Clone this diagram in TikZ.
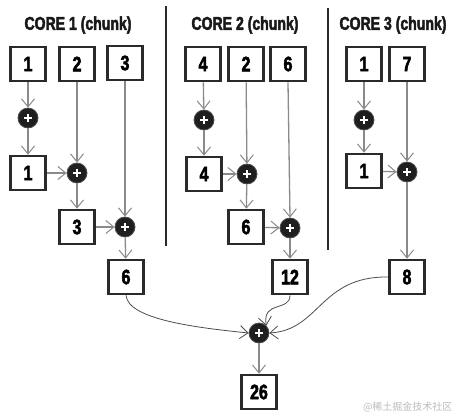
\documentclass[tikz,border=0pt]{standalone}
\usepackage{fontspec}
\setmainfont{Liberation Sans}
\newfontfamily\heavy{Liberation Sans}[UprightFont={* Bold}, FakeStretch=0.76, FakeBold=2.4]
\newfontfamily\cjkwm{Noto Sans CJK SC}
\usetikzlibrary{arrows.meta}
\definecolor{boxgray}{HTML}{2A2A2A}
\definecolor{linegray}{HTML}{8A8A8A}
\definecolor{wmgray}{HTML}{BBBBBB}
\begin{document}
\begin{tikzpicture}[x=1pt,y=-1pt,
  numbox/.style={draw=boxgray, line width=2.6pt, fill=white, minimum width=35pt, minimum height=34pt, inner sep=0pt, font=\heavy\fontsize{21}{22}\selectfont},
  plusnode/.style={circle, fill=black!88, draw=black!70, line width=0.8pt, minimum size=20pt, inner sep=0pt,
    path picture={\draw[white, line width=2pt] ([xshift=-4pt]path picture bounding box.center) -- ([xshift=4pt]path picture bounding box.center);
                  \draw[white, line width=2pt] ([yshift=-4pt]path picture bounding box.center) -- ([yshift=4pt]path picture bounding box.center);}},
  conn/.style={draw=linegray, line width=1.3pt, -{Straight Barb[length=8pt,width=13pt,line width=1pt]}},
  curveconn/.style={draw=black!70, line width=0.8pt, -{Straight Barb[length=8pt,width=13pt,line width=0.8pt]}},
  title/.style={font=\heavy\fontsize{18.5}{20}\selectfont, text=black!90},
  divider/.style={draw=boxgray, line width=1.6pt}
]
\useasboundingbox (0,0) rectangle (458,418);

% titles
\node[title] (t1) at (78,25) {CORE 1 (chunk)};
\node[title] (t2) at (245,25) {CORE 2 (chunk)};
\node[title] (t3) at (393,25) {CORE 3 (chunk)};

% dividers
\coordinate (d1t) at (166,6);
\coordinate (d1b) at (166,246);
\coordinate (d2t) at (328,8);
\coordinate (d2b) at (328,250);
\draw[divider] (d1t) -- (d1b);
\draw[divider] (d2t) -- (d2b);

% core 1
\node[numbox] (a1) at (28,64) {1};
\node[numbox] (a2) at (77,64) {2};
\node[numbox] (a3) at (125,63) {3};
\node[plusnode] (ap1) at (28,118) {};
\node[numbox] (a4) at (28,173) {1};
\node[plusnode] (ap2) at (77,173) {};
\node[numbox] (a5) at (77,227) {3};
\node[plusnode] (ap3) at (125,227) {};
\node[numbox] (a6) at (126,277) {6};

% core 2
\node[numbox] (b1) at (203,64) {4};
\node[numbox] (b2) at (246,64) {2};
\node[numbox] (b3) at (288,64) {6};
\node[plusnode] (bp1) at (204,120) {};
\node[numbox] (b4) at (204,174) {4};
\node[plusnode] (bp2) at (247,174) {};
\node[numbox] (b5) at (246,227) {6};
\node[plusnode] (bp3) at (290,228) {};
\node[numbox] (b6) at (290,277) {12};

% core 3
\node[numbox] (c1) at (364,64) {1};
\node[numbox] (c2) at (407,64) {7};
\node[plusnode] (cp1) at (364,120) {};
\node[numbox] (c4) at (364,171) {1};
\node[plusnode] (cp2) at (407,172) {};
\node[numbox] (c6) at (407,277) {8};

% final
\node[plusnode] (fp) at (259,333) {};
\node[numbox] (f) at (259,392) {26};

% core 1 connectors
\draw[conn] (a1) -- (ap1);
\draw[conn] (ap1) -- (a4);
\draw[conn] (a2) -- (ap2);
\draw[conn] (a4) -- (ap2);
\draw[conn] (ap2) -- (a5);
\draw[conn] (a3.south) -- (ap3.north);
\draw[conn] (a5) -- (ap3);
\draw[conn] (ap3) -- (a6);

% core 2 connectors
\draw[conn] (b1) -- (bp1);
\draw[conn] (bp1) -- (b4);
\draw[conn] (b2) -- (bp2);
\draw[conn] (b4) -- (bp2);
\draw[conn] (bp2) -- (b5);
\draw[conn] (b3.south) -- (bp3.north);
\draw[conn] (b5) -- (bp3);
\draw[conn] (bp3) -- (b6);

% core 3 connectors
\draw[conn] (c1) -- (cp1);
\draw[conn] (cp1) -- (c4);
\draw[conn] (c2) -- (cp2);
\draw[conn] (c4) -- (cp2);
\draw[conn] (cp2) -- (c6);

% final connectors
\draw[curveconn] (a6.south) .. controls (128,320) and (200,328) .. (fp.west);
\draw[curveconn] (b6.south) .. controls (290,312) and (262,300) .. (fp.north east);
\draw[curveconn] (c6.west) .. controls (320,276) and (320,330) .. (fp.east);
\draw[conn] (fp) -- (f);

% watermark
\node[font=\cjkwm\fontsize{10}{11}\selectfont, text=wmgray, anchor=east] (wm) at (456,407) {@稀土掘金技术社区};
\end{tikzpicture}
\end{document}
